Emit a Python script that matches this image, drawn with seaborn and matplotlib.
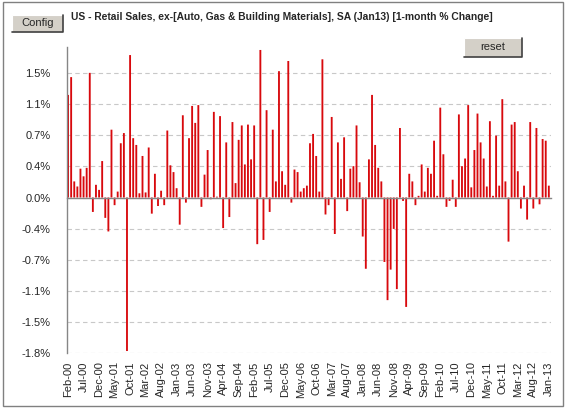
import numpy as np
import pandas as pd
import matplotlib
matplotlib.use("Agg")
import matplotlib.pyplot as plt
import seaborn as sns
from matplotlib.patches import Rectangle
from matplotlib.lines import Line2D
from matplotlib.ticker import MultipleLocator, FuncFormatter

# monthly % change, Feb-00 .. Jan-13
months = pd.date_range("2000-02-01", periods=156, freq="MS").strftime("%b-%y").tolist()
pct_change = [
    1.21, 1.42, 0.19, 0.13, 0.34, 0.25, 0.35, 1.47, -0.17, 0.15, 0.09, 0.43, -0.24,
    -0.40, 0.80, -0.09, 0.07, 0.64, 0.76, -1.81, 1.68, 0.70, 0.62, 0.05, 0.49, 0.06, 0.59,
    -0.19, 0.28, -0.10, 0.08, -0.09, 0.79, 0.38, 0.30, 0.11, -0.32, 0.97, -0.06, 0.70,
    1.08, 0.88, 1.09, -0.11, 0.27, 0.56, -0.02, 1.01, 0.01, 0.96, -0.36, 0.65, -0.23, 0.89,
    0.17, 0.68, 0.85, 0.39, 0.86, 0.45, 0.85, -0.55, 1.74, -0.50, 1.03, -0.17, 0.80,
    0.19, 1.49, 0.31, 0.15, 1.61, -0.06, 0.33, 0.30, 0.07, 0.11, 0.14, 0.64, 0.75, 0.49,
    0.07, 1.63, -0.20, -0.09, 0.95, -0.43, 0.65, 0.22, 0.71, -0.16, 0.34, 0.37, 0.85,
    0.18, -0.46, -0.84, 0.45, 1.21, 0.62, 0.35, 0.19, -0.76, -1.21, -0.85, -0.37, -1.08, 0.82,
    -0.04, -1.29, 0.28, 0.19, -0.09, 0.02, 0.39, 0.07, 0.35, 0.28, 0.67, 0.02, 1.06,
    0.51, -0.11, -0.04, 0.21, -0.11, 0.98, 0.37, 0.46, 1.09, 0.12, 0.56, 0.99, 0.65, 0.46,
    0.13, 0.90, 0.02, 0.73, 0.14, 1.16, 0.19, -0.52, 0.86, 0.89, 0.31, -0.13, 0.14,
    -0.26, 0.89, -0.13, 0.82, -0.08, 0.69, 0.67, 0.14,
]
label_every = 5
title = "US - Retail Sales, ex-[Auto, Gas & Building Materials], SA (Jan13) [1-month % Change]"

BAR_RED = "#d8090d"
AXIS_GRAY = "#868686"
W, H = 566, 408

sns.set_style("white")
plt.rcParams["font.family"] = ["Liberation Sans", "DejaVu Sans"]

fig = plt.figure(figsize=(W / 100, H / 100), dpi=100)
ax = fig.add_axes([66.5 / W, 55 / H, (551 - 66.5) / W, (361 - 55) / H])

df = pd.DataFrame({"month": months, "pct": pct_change})
sns.barplot(data=df, x="month", y="pct", color=BAR_RED, saturation=1,
            width=0.6, linewidth=0, ax=ax)
# let the thin bars antialias instead of snapping to 1 or 2 px
for bar in ax.patches:
    bar.set_snap(False)

ax.set_xlim(-0.4, len(months) - 0.3)
ax.set_ylim(-1.8334, 1.775)
ax.set_axisbelow(True)

# y axis: Excel-like auto step of 0.367
ax.yaxis.set_major_locator(MultipleLocator(1.1 / 3))
ax.yaxis.set_major_formatter(FuncFormatter(lambda v, _: f"{0 if abs(v) < 1e-9 else v:.1f}%"))
ax.grid(axis="y", color="#c8c8c8", linestyle=(0, (4, 3)), linewidth=0.8)
ax.grid(axis="x", visible=False)
ax.tick_params(axis="y", length=3.5, width=0.8, color=AXIS_GRAY, pad=8, labelsize=8)

for s in ["top", "right"]:
    ax.spines[s].set_visible(False)
ax.spines["left"].set_color(AXIS_GRAY)
ax.spines["left"].set_linewidth(1)
ax.spines["bottom"].set_position(("data", 0))
ax.spines["bottom"].set_color(AXIS_GRAY)
ax.spines["bottom"].set_linewidth(1)

# small ticks between categories on the zero line
ax.set_xticks(np.arange(-0.5, len(months)))
ax.tick_params(axis="x", length=3, width=0.8, color=AXIS_GRAY, direction="out",
               labelbottom=False)
ax.set_xlabel("")
ax.set_ylabel("")

# date labels at the bottom of the plot area
sec = ax.secondary_xaxis("bottom")
sec.set_xticks(np.arange(0, len(months), label_every), months[::label_every])
sec.tick_params(length=0, pad=6, labelsize=8, rotation=90)
sec.spines["bottom"].set_visible(False)

# title and the two buttons
fig.text(71 / W, 1 - 17 / H, title, ha="left", va="center", fontsize=7.4,
         fontweight="bold")


def button(x0, y0, x1, y1, text):
    fig.add_artist(Rectangle((x0 / W, 1 - y1 / H), (x1 - x0) / W, (y1 - y0) / H,
                             transform=fig.transFigure, facecolor="#d4d0c8",
                             edgecolor="#ffffff", linewidth=0.8))
    fig.add_artist(Line2D([x0 / W, x1 / W, x1 / W], [1 - y1 / H, 1 - y1 / H, 1 - y0 / H],
                          transform=fig.transFigure, color="#404040", linewidth=1.2))
    fig.text((x0 + x1) / 2 / W, 1 - (y0 + y1) / 2 / H, text, ha="center",
             va="center", fontsize=8)


button(11.5, 15, 63, 31.5, "Config")
button(464, 38, 522, 57, "reset")

# outer frame
fig.add_artist(Rectangle((2.5 / W, 2.5 / H), (563 - 2.5) / W, (406 - 2.5) / H,
                         transform=fig.transFigure, fill=False,
                         edgecolor="#808080", linewidth=1))

fig.savefig("out.png", dpi=100)
